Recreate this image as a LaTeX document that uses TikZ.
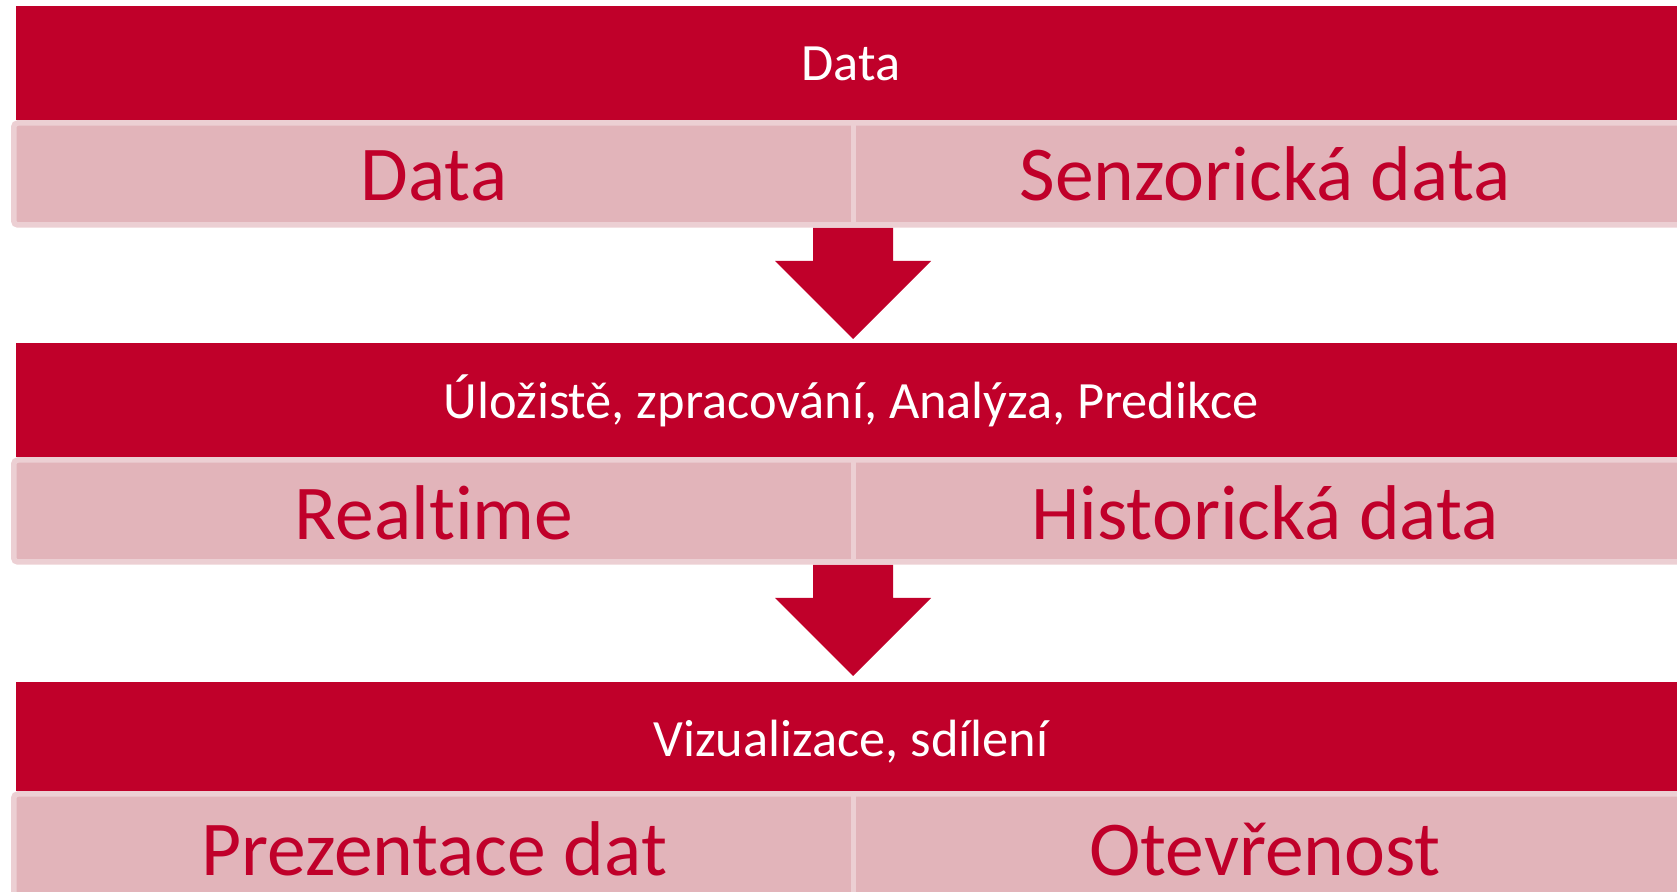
\documentclass[tikz,border=0pt]{standalone}
\usepackage{fontspec}
\setmainfont[Ligatures=NoCommon]{Carlito}
\usetikzlibrary{positioning}
\definecolor{civicred}{RGB}{192,0,42}
\definecolor{civicpink}{RGB}{226,180,186}
\definecolor{civicedge}{RGB}{236,207,211}
\tikzset{
  bartext/.style={anchor=base, text=white, font=\fontsize{26.2}{30}\selectfont},
  celltext/.style={anchor=base, inner sep=0pt, text depth=0pt, text=civicred, font=\fontsize{38.8}{44}\selectfont},
  cellbox/.style={fill=civicpink, draw=civicedge, line width=2.75pt, rounded corners=2pt},
  divider/.style={draw=civicedge, line width=2.5pt},
  downarrow/.style={fill=civicred},
}

\begin{document}
\begin{tikzpicture}[x=0.5pt,y=-0.5pt]
  \useasboundingbox (0,0) rectangle (1677,892);
  \clip (0,0) rectangle (1677,892);

  % level 1
  \fill[civicred] (16,6) rectangle (1690,120);
  \path[cellbox] (13.75,123) rectangle (1700,225);
  \draw[divider] (853,123) -- (853,225);
  \node[bartext] (data) at (851,81) {Data};
  \node[celltext] (rawdata) at (434,201) {Data};
  \node[celltext] (sensordata) at (1265,201) {Senzorická data};

  % level 2
  \fill[civicred] (16,343) rectangle (1690,457);
  \path[cellbox] (13.75,460) rectangle (1700,562);
  \draw[divider] (853,460) -- (853,562);
  \node[bartext] (storage) at (851,419) {Úložistě, zpracování, Analýza, Predikce};
  \node[celltext] (realtime) at (434,540) {Realtime};
  \node[celltext] (history) at (1265,540) {Historická data};

  % level 3
  \fill[civicred] (16,682) rectangle (1690,791);
  \path[cellbox] (13.75,794) rectangle (1700,900);
  \draw[divider] (853,794) -- (853,900);
  \node[bartext] (sharing) at (851,757) {Vizualizace, sdílení};
  \node[celltext] (presentation) at (434,876) {Prezentace dat};
  \node[celltext] (openness) at (1265,876) {Otevřenost};

  % block arrows between the levels
  \foreach \dy in {0,337}
    \fill[downarrow, yshift=-\dy*0.5pt]
      (813,228) -- (893,228) -- (893,261) -- (931,261) -- (853,339)
      -- (775,261) -- (813,261) -- cycle;
\end{tikzpicture}
\end{document}
